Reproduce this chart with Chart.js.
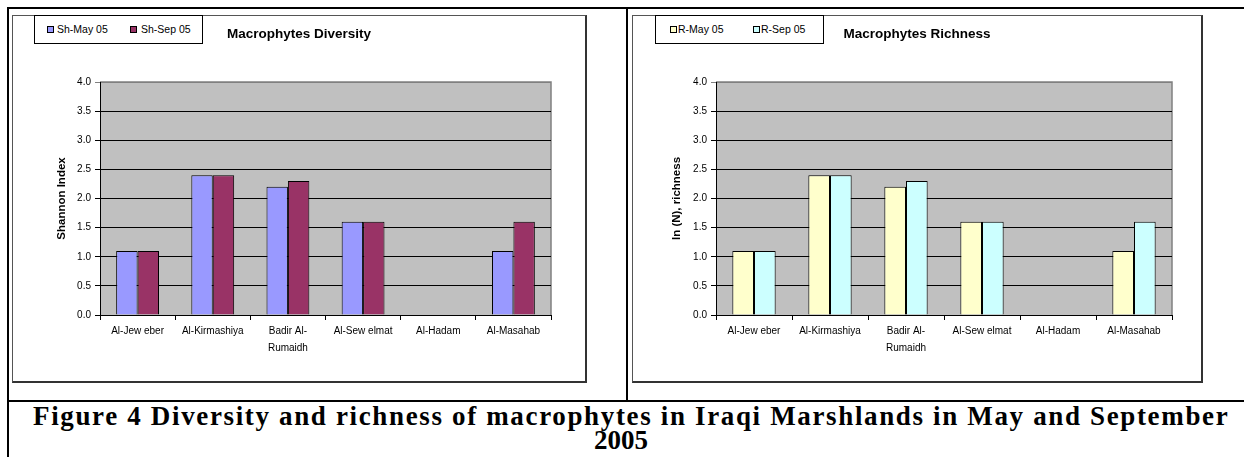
<!DOCTYPE html>
<html>
<head>
<meta charset="utf-8">
<script src="https://cdn.jsdelivr.net/npm/chart.js@4/dist/chart.umd.min.js"></script>
<style>
  html, body { margin: 0; padding: 0; background: #fff; }
  body { width: 1244px; height: 457px; position: relative; overflow: hidden; font-family: "Liberation Sans", Arial, sans-serif; }
  .line { position: absolute; background: #000; }
  .box { position: absolute; border-top: 1px solid #555; border-left: 1px solid #555; border-right: 2px solid #333; border-bottom: 2px solid #333; }
  .box canvas { position: absolute; left: 0; top: 0; }
  .legend { position: absolute; border: 1px solid #000; background: #fff; font-size: 10.5px; color: #000; }
  .legend .mk { position: absolute; width: 5px; height: 5px; border: 1px solid #000; }
  .legend .tx { position: absolute; white-space: nowrap; line-height: 12px; }
  .cap { position: absolute; font-family: "Liberation Serif", "Times New Roman", serif; font-weight: bold; font-size: 27px; line-height: 27px; white-space: nowrap; color: #000; }
</style>
</head>
<body>
<div class="line" style="left:7px;top:7px;width:1237px;height:2px;"></div>
<div class="line" style="left:7px;top:7px;width:2px;height:450px;"></div>
<div class="line" style="left:626px;top:7px;width:2px;height:394px;"></div>
<div class="line" style="left:7px;top:400px;width:1237px;height:2px;"></div>

<div class="box" style="left:12px;top:15px;width:572px;height:365px;"><canvas id="c1" width="572" height="365"></canvas></div>
<div class="box" style="left:632px;top:15px;width:568px;height:365px;"><canvas id="c2" width="568" height="365"></canvas></div>

<div class="legend" id="lg1" style="left:34px;top:15px;width:167px;height:27px;"></div>
<div class="legend" id="lg2" style="left:655px;top:15px;width:167px;height:27px;"></div>

<div class="cap" style="left:33px;top:403px;letter-spacing:1.65px;">Figure 4 Diversity and richness of macrophytes in Iraqi Marshlands in May and September</div>
<div class="cap" style="left:8px;top:427px;width:1226px;text-align:center;">2005</div>

<script>
const categories = ["Al-Jew eber", "Al-Kirmashiya", ["Badir Al-", "Rumaidh"], "Al-Sew elmat", "Al-Hadam", "Al-Masahab"];
const shMay = [1.1, 2.4, 2.2, 1.6, 0, 1.1];
const shSep = [1.1, 2.4, 2.3, 1.6, 0, 1.6];
const rMay = [1.1, 2.4, 2.2, 1.6, 0, 1.1];
const rSep = [1.1, 2.4, 2.3, 1.6, 0, 1.6];
const seriesNames1 = ["Sh-May 05", "Sh-Sep 05"];
const seriesNames2 = ["R-May 05", "R-Sep 05"];
const yMin = 0, yMax = 4, yStep = 0.5;

const plotBg = {
  id: 'plotBg',
  beforeDraw(chart) {
    const { ctx, chartArea: a } = chart;
    ctx.save();
    ctx.fillStyle = '#C0C0C0';
    ctx.fillRect(a.left, a.top, a.right - a.left, a.bottom - a.top);
    ctx.strokeStyle = '#808080';
    ctx.lineWidth = 1.5;
    ctx.beginPath();
    ctx.moveTo(a.left, a.top);
    ctx.lineTo(a.right, a.top);
    ctx.lineTo(a.right, a.bottom);
    ctx.stroke();
    ctx.restore();
  }
};

function makeChart(id, names, d1, d2, c1, c2, title, yTitle, yWidth, yTitlePad, rightPad) {
  return new Chart(document.getElementById(id), {
    type: 'bar',
    data: {
      labels: categories,
      datasets: [
        { label: names[0], data: d1, backgroundColor: c1, borderColor: '#000', borderWidth: 1 },
        { label: names[1], data: d2, backgroundColor: c2, borderColor: '#000', borderWidth: 1 }
      ]
    },
    options: {
      responsive: false,
      animation: false,
      devicePixelRatio: 1,
      layout: { padding: 0 },
      datasets: { bar: { categoryPercentage: 0.57, barPercentage: 1.0 } },
      plugins: {
        legend: { display: false },
        tooltip: { enabled: false },
        title: {
          display: true, text: title, color: '#000',
          font: { family: 'Liberation Sans', size: 13.5, weight: 'bold' },
          padding: { top: 10, bottom: 39.8 }
        }
      },
      scales: {
        x: {
          type: 'category',
          offset: true,
          grid: { offset: true, drawOnChartArea: false, drawTicks: true, tickLength: 5, color: '#000' },
          border: { display: true, color: '#000', width: 1 },
          ticks: { color: '#000', font: { family: 'Liberation Sans', size: 10, lineHeight: 1.75 }, maxRotation: 0, minRotation: 0, autoSkip: false, padding: 2 },
          afterFit(s) { s.height = 66; }
        },
        y: {
          type: 'linear', position: 'left', min: yMin, max: yMax,
          ticks: { stepSize: yStep, color: '#000', padding: 4, font: { family: 'Liberation Sans', size: 10 }, callback: v => Number(v).toFixed(1) },
          grid: { color: c => (c.tick && c.tick.value === yMax) ? '#808080' : '#000', lineWidth: 1, drawTicks: true, tickLength: 5 },
          border: { display: true, color: '#000', width: 1 },
          title: { display: true, text: yTitle, color: '#000', font: { family: 'Liberation Sans', size: 11.5, weight: 'bold' }, padding: { top: yTitlePad, bottom: 0 } },
          afterFit(s) { s.width = yWidth; }
        },
        y2: {
          type: 'linear', position: 'right', display: true,
          grid: { display: false, drawTicks: false },
          border: { display: false },
          ticks: { display: false },
          afterFit(s) { s.width = rightPad; }
        }
      }
    },
    plugins: [plotBg]
  });
}

makeChart('c1', seriesNames1, shMay, shSep, '#9999FF', '#993366', 'Macrophytes Diversity', 'Shannon Index', 87, 42, 34);
makeChart('c2', seriesNames2, rMay, rSep, '#FFFFCC', '#CCFFFF', 'Macrophytes Richness', 'ln (N), richness', 83, 37, 29);

function legend(id, names, colors, positions) {
  const el = document.getElementById(id);
  names.forEach((n, i) => {
    const mk = document.createElement('div');
    mk.className = 'mk';
    mk.style.left = positions[i][0] + 'px';
    mk.style.top = '10px';
    mk.style.background = colors[i];
    el.appendChild(mk);
    const tx = document.createElement('div');
    tx.className = 'tx';
    tx.style.left = positions[i][1] + 'px';
    tx.style.top = '7px';
    tx.textContent = n;
    el.appendChild(tx);
  });
}
legend('lg1', seriesNames1, ['#9999FF', '#993366'], [[12, 22], [95, 106]]);
legend('lg2', seriesNames2, ['#FFFFCC', '#CCFFFF'], [[14, 22], [97, 105]]);
</script>
</body>
</html>
